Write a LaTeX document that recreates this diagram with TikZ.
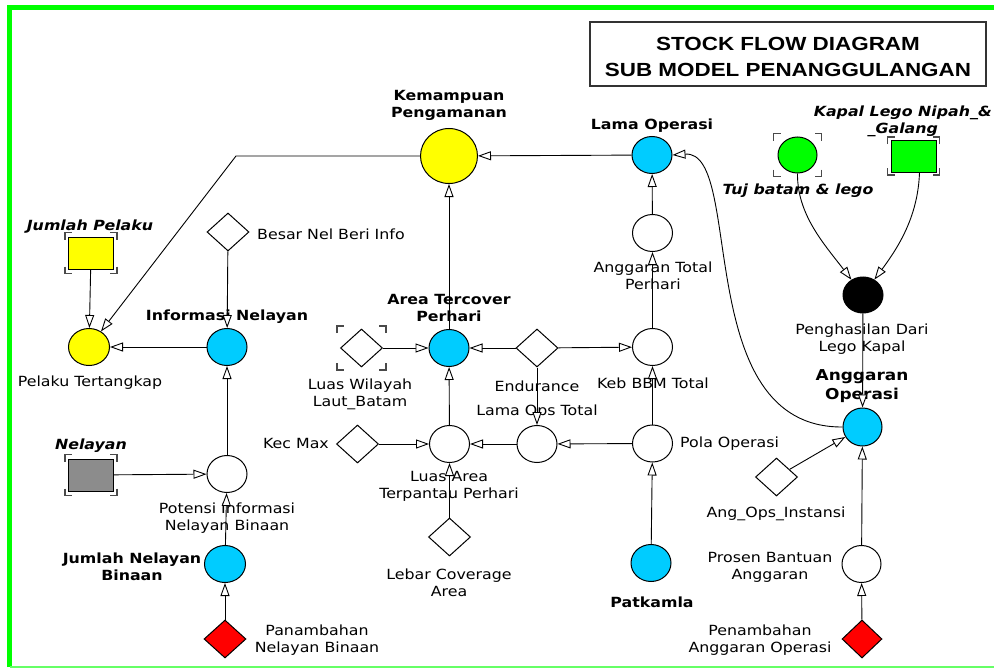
\documentclass[tikz,border=0pt]{standalone}
\usepackage{fontspec}
\usetikzlibrary{shapes.geometric,arrows.meta}

\newfontfamily\lblfont[FakeStretch=1.13,
  BoldFont={DejaVu Sans Bold},
  ItalicFont={DejaVu Sans Oblique},
  BoldItalicFont={DejaVu Sans Bold Oblique}]{DejaVu Sans}
\newfontfamily\titlefont[FakeStretch=1.18,BoldFont={Liberation Sans Bold}]{Liberation Sans}

\definecolor{sfyellow}{HTML}{FFFF00}
\definecolor{sfcyan}{HTML}{00CCFF}
\definecolor{sfgreen}{HTML}{00FF00}
\definecolor{sfgray}{HTML}{8C8C8C}
\definecolor{sfred}{HTML}{FF0000}
\definecolor{sfframe}{HTML}{00FF00}
\definecolor{sfframelow}{HTML}{66FF66}
\definecolor{ghostc}{HTML}{4A4A4A}

% corner brackets around a shadow (ghost) variable: node, horizontal gap, vertical gap
\newcommand\ghostmarks[3]{%
  \path (#1.west |- #1.north) coordinate (gnw) (#1.east |- #1.south) coordinate (gse)
        (gnw -| gse) coordinate (gne) (gnw |- gse) coordinate (gsw);
  \draw[ghost] ([shift={(-#2pt,#3pt-7pt)}]gnw) -- ([shift={(-#2pt,#3pt)}]gnw) -- ([shift={(-#2pt+7pt,#3pt)}]gnw);
  \draw[ghost] ([shift={(#2pt,#3pt-7pt)}]gne) -- ([shift={(#2pt,#3pt)}]gne) -- ([shift={(#2pt-7pt,#3pt)}]gne);
  \draw[ghost] ([shift={(-#2pt,-#3pt+7pt)}]gsw) -- ([shift={(-#2pt,-#3pt)}]gsw) -- ([shift={(-#2pt+7pt,-#3pt)}]gsw);
  \draw[ghost] ([shift={(#2pt,-#3pt+7pt)}]gse) -- ([shift={(#2pt,-#3pt)}]gse) -- ([shift={(#2pt-7pt,-#3pt)}]gse);
}

\begin{document}
\begin{tikzpicture}[x=1pt,y=-1pt,
  conv/.style={ellipse, draw, line width=1pt, inner sep=0pt,
               minimum width=40pt, minimum height=37pt, fill=white},
  cst/.style={diamond, draw, line width=1pt, inner sep=0pt,
              minimum width=42pt, minimum height=38pt, fill=white},
  stk/.style={rectangle, draw, line width=1pt, inner sep=0pt,
              minimum width=45pt, minimum height=32pt},
  lbl/.style={font=\lblfont\fontsize{14}{17}\selectfont, inner sep=0pt, align=center},
  lblb/.style={lbl, font=\lblfont\bfseries\fontsize{14}{17}\selectfont},
  lblbig/.style={lbl, font=\lblfont\bfseries\fontsize{15}{19}\selectfont},
  lbli/.style={lbl, font=\lblfont\bfseries\itshape\fontsize{14}{17}\selectfont},
  link/.style={draw, line width=0.9pt, -{Triangle[length=13pt,width=9pt,fill=white]}},
  ghost/.style={draw=ghostc, line width=1.8pt},
]
\useasboundingbox (0,0) rectangle (994,669);
\fill[white] (0,0) rectangle (994,669);

% outer frame
\draw[sfframe, line width=5pt] (9.8,667) -- (9.8,7.5) -- (994,7.5);
\draw[sfframelow, line width=2pt] (9.8,667) -- (994,667);

% title box
\node[draw=black!80, line width=1.2pt, minimum width=396pt, minimum height=64pt, inner sep=0pt]
  (tbox) at (788,54) {};
\node[font=\titlefont\bfseries\fontsize{19}{26}\selectfont, align=center, inner sep=0pt]
  (ttl) at (788,57) {STOCK FLOW DIAGRAM\\SUB MODEL PENANGGULANGAN};

% ---------- variables ----------
\node[conv, fill=sfyellow, minimum width=57pt, minimum height=55pt] (kp) at (449,156) {};
\node[conv, fill=sfcyan] (lo) at (652,155) {};
\node[conv, fill=sfyellow, minimum width=41pt] (pt) at (89,347) {};
\node[stk, fill=sfyellow] (jp) at (91,253) {};
\node[conv, fill=sfcyan] (inl) at (227,347) {};
\node[cst] (bnb) at (228,232) {};
\node[conv] (pinb) at (227,474) {};
\node[stk, fill=sfgray] (nel) at (91,475) {};
\node[conv, fill=sfcyan, minimum width=41pt] (jnb) at (225,564) {};
\node[cst, fill=sfred] (pnb) at (225,639) {};

\node[conv, fill=sfcyan] (atp) at (449,348) {};
\node[cst] (lwl) at (361.5,348) {};
\node[cst] (endu) at (537,348) {};
\node[conv] (kbt) at (652.5,347) {};
\node[conv] (atph) at (652.5,233) {};
\node[conv] (lot) at (537,444) {};
\node[conv] (latp) at (449.5,444) {};
\node[cst] (km) at (357.5,444) {};
\node[conv] (po) at (652.5,443.5) {};
\node[cst] (lca) at (449.5,537) {};
\node[conv, fill=sfcyan] (pat) at (651,563) {};

\node[conv, fill=sfgreen, minimum width=39pt, minimum height=36pt] (tuj) at (797.5,155) {};
\node[stk, fill=sfgreen] (kap) at (913.5,156) {};
\node[conv, fill=black, minimum height=36pt] (pdl) at (863,295) {};
\node[conv, fill=sfcyan, minimum width=39pt, minimum height=38pt] (ao) at (862.5,427) {};
\node[cst] (aoi) at (776.5,477) {};
\node[conv, minimum width=39pt] (pba) at (861.5,564) {};
\node[cst, fill=sfred, minimum width=40pt] (pao) at (862,639) {};

% shadow-variable brackets
\ghostmarks{jp}{3}{4}
\ghostmarks{nel}{3}{4}
\ghostmarks{lwl}{3}{2.5}
\ghostmarks{tuj}{4}{3}
\ghostmarks{kap}{3}{2.5}

% ---------- labels ----------
\node[lblb] (kpl) at (449,105) {Kemampuan\\Pengamanan};
\node[lblb] (lol) at (652,126) {Lama Operasi};
\node[lbl] (ptl) at (90,383) {Pelaku Tertangkap};
\node[lbli] (jpl) at (90,227) {Jumlah Pelaku};
\node[lblb] (inll) at (227,317) {Informasi Nelayan};
\node[lbl, anchor=west] (bnbl) at (257,234) {Besar Nel Beri Info};
\node[lbl] (pinbl) at (227,518) {Potensi Informasi\\Nelayan Binaan};
\node[lbli] (nell) at (91,446) {Nelayan};
\node[lblb] (jnbl) at (132,567) {Jumlah Nelayan\\Binaan};
\node[lbl] (pnbl) at (317,640) {Panambahan\\Nelayan Binaan};

\node[lblb] (atpl) at (449,308) {Area Tercover\\Perhari};
\node[lbl] (lwll) at (360,394) {Luas Wilayah\\Laut\_Batam};
\node[lbl] (endul) at (537,386) {Endurance};
\node[lbl] (kbtl) at (653,383) {Keb BBM Total};
\node[lbl] (atphl) at (653,276) {Anggaran Total\\Perhari};
\node[lbl] (lotl) at (537,412) {Lama Ops Total};
\node[lbl] (latpl) at (449,486) {Luas Area\\Terpantau Perhari};
\node[lbl, anchor=east] (kml) at (329,443) {Kec Max};
\node[lbl, anchor=west] (pol) at (680,444) {Pola Operasi};
\node[lbl] (lcal) at (449,583) {Lebar Coverage\\Area};
\node[lblb] (patl) at (652,602) {Patkamla};

\node[lbli] (tujl) at (798,191) {Tuj batam \& lego};
\node[lbli, anchor=east] (kapl) at (992,121) {Kapal Lego Nipah\_\&\\\_Galang};
\node[lbl] (pdll) at (862,339) {Penghasilan Dari\\Lego Kapal};
\node[lblbig] (aol) at (862,386) {Anggaran\\Operasi};
\node[lbl] (aoil) at (776,514) {Ang\_Ops\_Instansi};
\node[lbl] (pbal) at (770,567) {Prosen Bantuan\\Anggaran};
\node[lbl] (paol) at (760,640) {Penambahan\\Anggaran Operasi};

% ---------- connectors ----------
\coordinate (kpbend) at (236,156);
\draw[link] (kp.west) -- (kpbend) -- (pt);
\draw[link] (lo) -- (kp);
\draw[link] (jp) -- (pt);
\draw[link] (inl) -- (pt);
\draw[link] (bnb) -- (inl);
\draw[link] (pinb) -- (inl);
\draw[link] (nel) -- (pinb);
\draw[link] (jnb) -- (pinb);
\draw[link] (pnb) -- (jnb);

\draw[link] (atp) -- (kp);
\draw[link] (lwl) -- (atp);
\draw[link] (endu) -- (atp);
\draw[link] (endu) -- (kbt);
\draw[link] (endu) -- (lot);
\draw[link] (latp) -- (atp);
\draw[link] (km) -- (latp);
\draw[link] (lot) -- (latp);
\draw[link] (po) -- (lot);
\draw[link] (lca) -- (latp);
\draw[link] (po) -- (kbt);
\draw[link] (kbt) -- (atph);
\draw[link] (atph) -- (lo);
\draw[link] (pat) -- (po);

\draw[link] (ao.west) .. controls (690,428) and (745,150) .. (lo.east);
\draw[link] (tuj.south) .. controls (797,215) and (825,245) .. (pdl);
\draw[link] ([xshift=6pt]kap.south) .. controls (918,215) and (900,245) .. (pdl);
\draw[link] (pdl) -- (ao);
\draw[link] (aoi) -- (ao);
\draw[link] (pba) -- (ao);
\draw[link] (pao) -- (pba);
\end{tikzpicture}
\end{document}
